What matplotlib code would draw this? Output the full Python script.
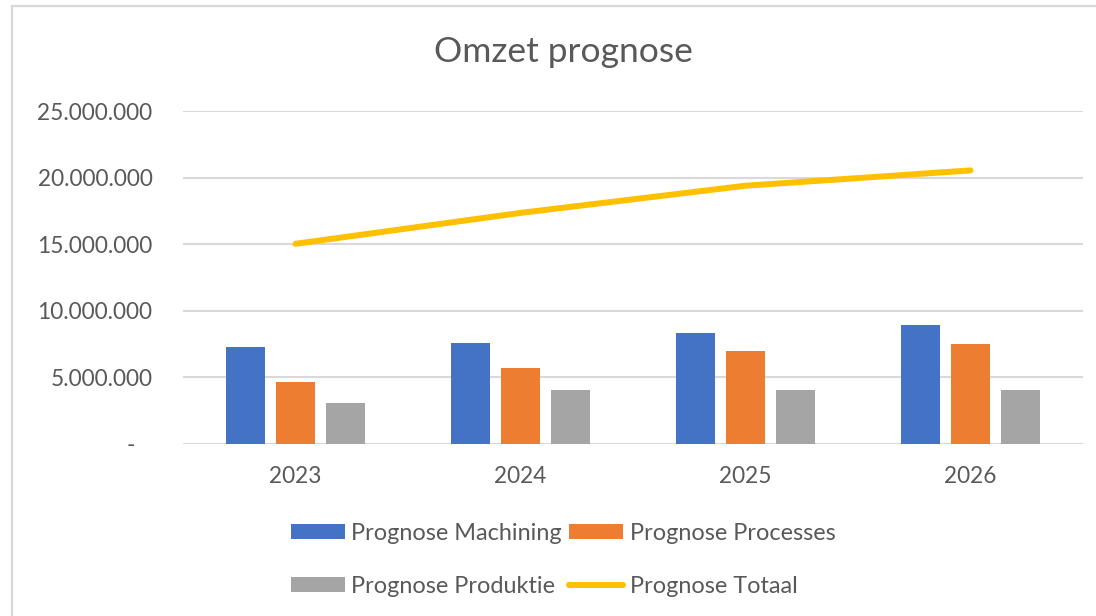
import matplotlib
matplotlib.use("Agg")
import matplotlib.pyplot as plt
from matplotlib.lines import Line2D
from matplotlib.ticker import FuncFormatter
import numpy as np

# Data
years = ["2023", "2024", "2025", "2026"]
machining = [7290000, 7620000, 8350000, 8970000]
processes = [4650000, 5680000, 6990000, 7520000]
produktie = [3090000, 4050000, 4050000, 4050000]
totaal = [15030000, 17350000, 19390000, 20540000]

text_color = "#595959"
grid_color = "#d9d9d9"

plt.rcParams['font.family'] = ['Lato', 'DejaVu Sans']

fig = plt.figure(figsize=(10.96, 6.16), dpi=100)
ax = fig.add_axes([183 / 1096, 1 - 444 / 616, 900 / 1096, 333 / 616])

x = np.arange(len(years))
w = 0.173
step = 0.222
b1 = ax.bar(x - step, machining, w, color="#4472C4", label="Prognose Machining", zorder=3)
b2 = ax.bar(x, processes, w, color="#ED7D31", label="Prognose Processes", zorder=3)
b3 = ax.bar(x + step, produktie, w, color="#A5A5A5", label="Prognose Produktie", zorder=3)
l1, = ax.plot(x, totaal, color="#FFC000", linewidth=4.3, solid_capstyle="round",
              label="Prognose Totaal", zorder=4)

ax.set_xlim(-0.5, len(years) - 0.5)
ax.set_ylim(0, 25000000)
ax.set_yticks(np.arange(0, 25000001, 5000000))
ax.set_xticks(x)
ax.set_xticklabels(years)


def fmt(v, pos):
    if v == 0:
        return "-   "
    return f"{int(v):,}".replace(",", ".")


ax.yaxis.set_major_formatter(FuncFormatter(fmt))
ax.tick_params(axis="both", length=0, labelsize=16.3, labelcolor=text_color)
ax.tick_params(axis="y", pad=22)
ax.tick_params(axis="x", pad=16)
ax.grid(axis="y", color=grid_color, linewidth=1.5, zorder=0)
for s in ax.spines.values():
    s.set_visible(False)

fig.text(563 / 1096, 1 - 52 / 616, "Omzet prognose", ha="center", va="center",
         fontsize=25.5, color=text_color)

# column-major order so rows read Machining/Processes, Produktie/Totaal
handles = [b1, b3, b2, l1]
labels = [h.get_label() for h in handles]
leg = fig.legend(handles, labels, loc="center", bbox_to_anchor=(563 / 1096, 1 - 560 / 616),
                 ncol=2, frameon=False, fontsize=16.9, handlelength=2.3, handleheight=0.6,
                 handletextpad=0.28, columnspacing=0.3, labelspacing=1.35)
for t in leg.get_texts():
    t.set_color(text_color)

# chart border (left and top edges visible in the reference)
fig.add_artist(Line2D([12 / 1096, 12 / 1096], [0, 1 - 6 / 616], color=grid_color,
                      linewidth=1.6, transform=fig.transFigure))
fig.add_artist(Line2D([12 / 1096, 1], [1 - 6 / 616, 1 - 6 / 616], color=grid_color,
                      linewidth=1.6, transform=fig.transFigure))

fig.savefig("out.png", dpi=100)
